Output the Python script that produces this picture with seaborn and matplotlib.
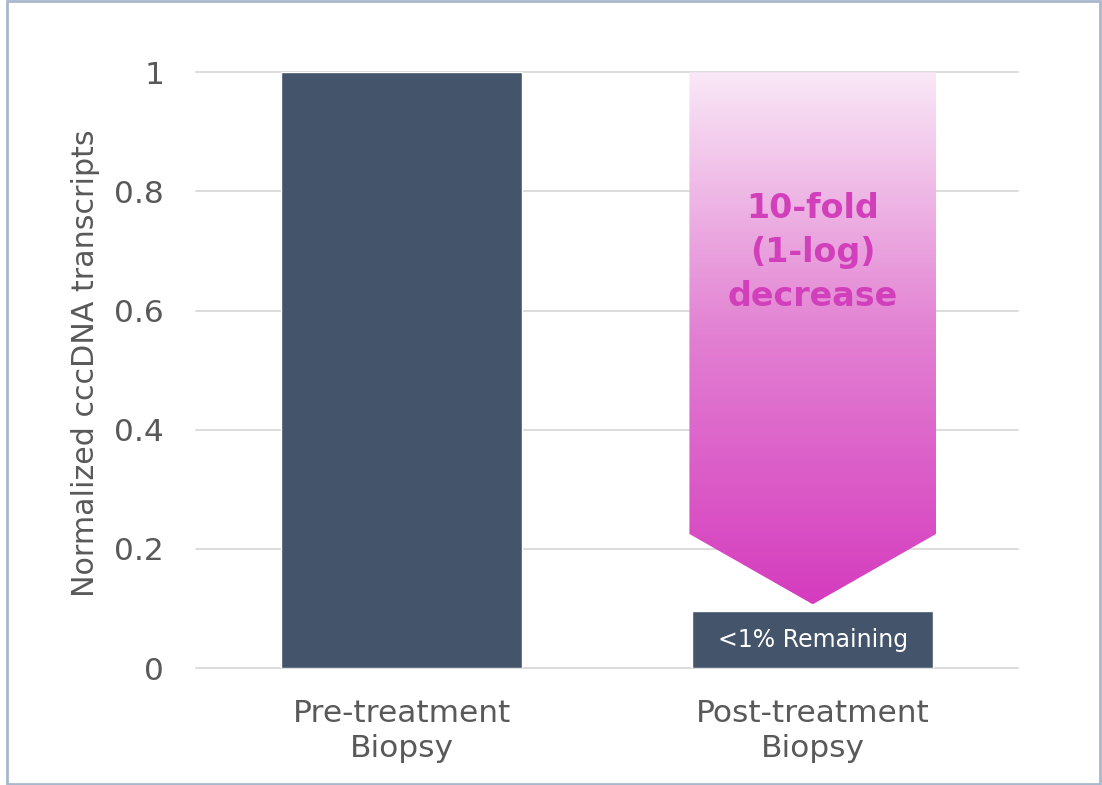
import numpy as np
import pandas as pd
import matplotlib
matplotlib.use("Agg")
import matplotlib.pyplot as plt
import seaborn as sns
from matplotlib.patches import Polygon, Rectangle
from matplotlib.colors import LinearSegmentedColormap

# data
categories = ["Pre-treatment\nBiopsy", "Post-treatment\nBiopsy"]
values = [1.0, 0.095]
y_ticks = [0, 0.2, 0.4, 0.6, 0.8, 1]
y_tick_labels = ["0", "0.2", "0.4", "0.6", "0.8", "1"]
arrow_top = 1.0
arrow_shoulder = 0.225
arrow_tip = 0.107
arrow_text = "10-fold\n(1-log)\ndecrease"
bar_text = "<1% Remaining"

df = pd.DataFrame({"group": categories, "value": values})

sns.set_theme(style="white")
plt.rcParams["font.family"] = ["DejaVu Sans"]

fig = plt.figure(figsize=(11.02, 7.85), dpi=100)
ax = fig.add_axes([0.178, 0.149, 0.746, 0.759])

bar_color = "#44546A"
text_gray = "#595959"
pink = "#D23FBB"

sns.barplot(data=df, x="group", y="value", color=bar_color, width=0.585,
            saturation=1, ax=ax, zorder=3)

ax.set_xlim(-0.5, 1.5)
ax.set_ylim(0, 1)
ax.set_yticks(y_ticks)
ax.set_yticklabels(y_tick_labels)
for y in y_ticks:
    ax.axhline(y, color="#D9D9D9", lw=1.3, zorder=1, clip_on=False)

# gradient arrow over the post-treatment bar
cx, hw = 1.0, 0.3
pts = [(cx - hw, arrow_top), (cx + hw, arrow_top), (cx + hw, arrow_shoulder),
       (cx, arrow_tip), (cx - hw, arrow_shoulder)]
poly = Polygon(pts, closed=True, facecolor="none", edgecolor="none")
ax.add_patch(poly)
cmap = LinearSegmentedColormap.from_list("pinkgrad", ["#D53CBE", "#E27FD2", "#F9E8F6"])
grad = np.linspace(0, 1, 256).reshape(-1, 1)
im = ax.imshow(grad, cmap=cmap, origin="lower", aspect="auto",
               extent=[cx - hw, cx + hw, arrow_tip, arrow_top], zorder=4)
im.set_clip_path(poly)
ax.set_xlim(-0.5, 1.5)
ax.set_ylim(0, 1)

ax.text(cx, 0.697, arrow_text, ha="center", va="center", color=pink,
        fontsize=24, fontweight="bold", linespacing=1.42, zorder=5)
ax.text(1, values[1] / 2, bar_text, ha="center", va="center", color="white",
        fontsize=17, zorder=5)

ax.set_xlabel("")
ax.set_ylabel("Normalized cccDNA transcripts", fontsize=21.7, color=text_gray)
ax.yaxis.set_label_coords(-0.117, 0.512)
ax.tick_params(axis="y", length=0, pad=23, labelsize=22.5, labelcolor=text_gray)
ax.tick_params(axis="x", length=0, pad=22, labelsize=22.5, labelcolor=text_gray)
for lab in ax.get_xticklabels():
    lab.set_linespacing(1.3)
sns.despine(ax=ax, left=True, bottom=True)

# outer frame
fig.patches.append(Rectangle((7 / 1102, 1 / 785), 1093 / 1102, 783 / 785,
                             transform=fig.transFigure, fill=False,
                             edgecolor="#A9B7CC", lw=2))

fig.savefig("out.png", dpi=100)
